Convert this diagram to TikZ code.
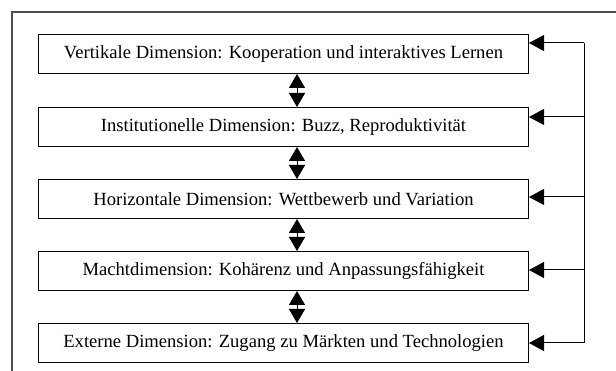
\documentclass[tikz,border=0pt]{standalone}
\usepackage{fontspec}
\setmainfont{Liberation Serif}
\usetikzlibrary{arrows.meta}
\tikzset{
  frameline/.style={draw=black!70, line width=1.6pt},
  dimbox/.style={draw=black, line width=1pt, anchor=north west, minimum width=490pt, minimum height=39pt, inner sep=0pt, font=\fontsize{18.6}{21}\selectfont},
  dblarrow/.style={draw=black, line width=1pt, {Triangle[length=14pt,width=16pt]}-{Triangle[length=14pt,width=16pt]}},
  fbline/.style={draw=black, line width=1pt},
  fbarrow/.style={draw=black, line width=1pt, -{Triangle[length=15pt,width=16pt]}}
}
\begin{document}
\begin{tikzpicture}[x=1pt,y=-1pt]
\useasboundingbox (0,0) rectangle (616,371);
\fill[white] (0,0) rectangle (616,371);
\coordinate (fa) at (12,371);
\coordinate (fb) at (12,12);
\coordinate (fc) at (616,12);
\draw[frameline] (fa) -- (fb) -- (fc);
\node[dimbox] (b1) at (38,34) {Vertikale Dimension: Kooperation und interaktives Lernen};
\node[dimbox] (b2) at (38,107) {Institutionelle Dimension: Buzz, Reproduktivität};
\node[dimbox] (b3) at (38,179) {Horizontale Dimension: Wettbewerb und Variation};
\node[dimbox] (b4) at (38,251) {Machtdimension: Kohärenz und Anpassungsfähigkeit};
\node[dimbox] (b5) at (38,323) {Externe Dimension: Zugang zu Märkten und Technologien};
\coordinate (ax) at (297,0);
\draw[dblarrow] (b1.south -| ax) -- (b2.north -| ax);
\draw[dblarrow] (b2.south -| ax) -- (b3.north -| ax);
\draw[dblarrow] (b3.south -| ax) -- (b4.north -| ax);
\draw[dblarrow] (b4.south -| ax) -- (b5.north -| ax);
\coordinate (r1) at (584,43);
\coordinate (r2) at (584,117);
\coordinate (r3) at (584,197);
\coordinate (r4) at (584,270);
\coordinate (r5) at (584,343);
\draw[fbline] (r1) -- (r5);
\draw[fbarrow] (r1) -- (r1 -| b1.east);
\draw[fbarrow] (r2) -- (r2 -| b2.east);
\draw[fbarrow] (r3) -- (r3 -| b3.east);
\draw[fbarrow] (r4) -- (r4 -| b4.east);
\draw[fbarrow] (r5) -- (r5 -| b5.east);
\end{tikzpicture}
\end{document}
